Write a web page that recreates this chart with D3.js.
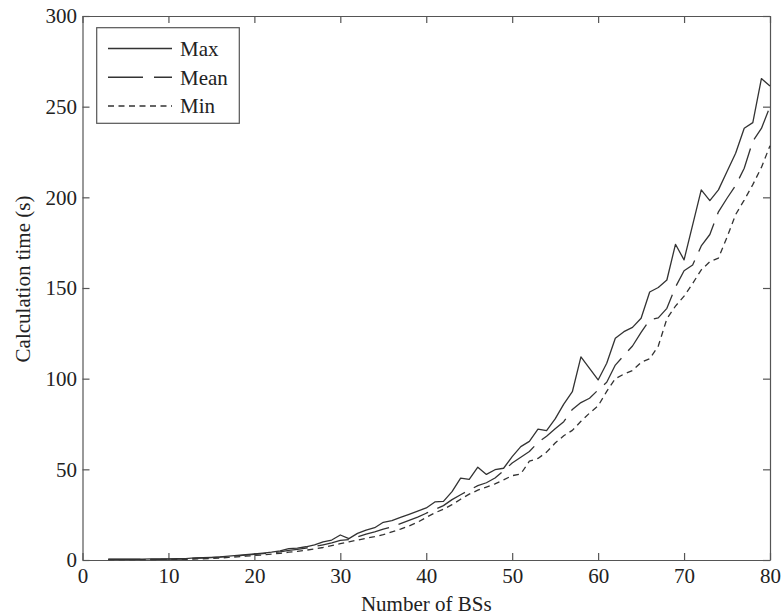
<!DOCTYPE html>
<html>
<head>
<meta charset="utf-8">
<script src="https://cdn.jsdelivr.net/npm/d3@7"></script>
<style>
  body { margin: 0; background: #fff; }
  text { font-family: "Liberation Serif", "DejaVu Serif", serif; fill: #222; }
</style>
</head>
<body>
<svg id="chart" width="784" height="616"></svg>
<script>
// Number of base stations
const bsCounts = [3, 4, 5, 6, 7, 8, 9, 10, 11, 12, 13, 14, 15, 16, 17, 18, 19, 20,
  21, 22, 23, 24, 25, 26, 27, 28, 29, 30, 31, 32, 33, 34, 35, 36, 37, 38, 39, 40,
  41, 42, 43, 44, 45, 46, 47, 48, 49, 50, 51, 52, 53, 54, 55, 56, 57, 58, 59, 60,
  61, 62, 63, 64, 65, 66, 67, 68, 69, 70, 71, 72, 73, 74, 75, 76, 77, 78, 79, 80];

// Calculation time in seconds
const maxTime = [0.5, 0.5, 0.5, 0.5, 0.5, 0.6, 0.6, 0.6, 0.7, 0.8, 1.2, 1.3, 1.5, 1.7, 2.1, 2.5, 3.0, 3.4,
  3.8, 4.3, 5.0, 6.3, 6.6, 7.3, 8.3, 10.0, 11.0, 13.8, 11.8, 14.7, 16.5, 17.8, 20.8, 21.7, 23.5, 25.2, 27.0, 28.7,
  32.0, 32.3, 37.7, 45.2, 44.5, 51.2, 47.2, 49.8, 50.6, 57.0, 62.5, 65.4, 72.2, 71.3, 77.8, 86.0, 92.8, 112.0, 105.7, 99.3,
  108.5, 122.3, 125.9, 128.3, 133.3, 147.8, 150.3, 154.4, 174.1, 165.5, 184.8, 204.1, 198.2, 204.1, 214.2, 224.3, 238.1, 241.2, 265.5, 261.4];

const meanTime = [0.3, 0.3, 0.3, 0.3, 0.4, 0.4, 0.4, 0.5, 0.5, 0.6, 0.9, 1.1, 1.3, 1.6, 1.9, 2.3, 2.7, 3.1,
  3.5, 3.9, 4.5, 5.3, 5.9, 6.6, 7.4, 8.4, 9.5, 10.8, 11.2, 12.8, 14.3, 15.5, 17.0, 18.3, 20.0, 21.8, 23.6, 25.8,
  27.8, 30.0, 33.3, 36.0, 38.5, 41.0, 42.6, 45.2, 49.2, 53.5, 56.7, 59.8, 64.8, 68.3, 72.4, 76.3, 83.0, 86.8, 89.2, 93.8,
  98.0, 107.5, 112.8, 118.0, 125.5, 132.4, 133.5, 138.8, 150.5, 159.5, 162.7, 173.2, 179.5, 192.0, 199.5, 206.5, 216.0, 231.0, 238.0, 250.0];

const minTime = [0.2, 0.2, 0.2, 0.2, 0.2, 0.2, 0.3, 0.3, 0.3, 0.4, 0.5, 0.7, 0.9, 1.1, 1.4, 1.7, 2.1, 2.5,
  2.8, 3.2, 3.7, 4.3, 4.8, 5.4, 6.1, 6.9, 7.9, 9.0, 10.0, 11.0, 12.0, 12.9, 14.0, 15.5, 17.0, 18.8, 20.8, 23.5,
  26.0, 28.0, 30.5, 33.5, 36.3, 38.5, 40.2, 42.0, 44.2, 46.5, 47.5, 54.5, 56.0, 59.5, 64.5, 68.5, 71.5, 76.5, 81.0, 85.0,
  93.0, 100.0, 102.5, 104.5, 109.0, 111.0, 118.0, 133.0, 140.0, 145.5, 152.5, 160.0, 164.5, 166.5, 178.0, 190.5, 198.5, 207.0, 216.5, 228.5];

const xTickValues = [0, 10, 20, 30, 40, 50, 60, 70, 80];
const yTickValues = [0, 50, 100, 150, 200, 250, 300];
const seriesNames = ["Max", "Mean", "Min"];
const seriesDash = ["none", "32,10", "6,4.5"];
const xLabel = "Number of BSs";
const yLabel = "Calculation time (s)";

const svg = d3.select("#chart");
const plot = { left: 82.5, right: 770, top: 16, bottom: 560 };
const axisColor = "#555";
const lineColor = "#333";
const fontSize = 21;

const x = d3.scaleLinear().domain([0, 80]).range([plot.left, plot.right]);
const y = d3.scaleLinear().domain([0, 300]).range([plot.bottom, plot.top]);

// Frame axes with inward ticks on all four sides
function styleAxis(g) {
  g.selectAll("path, line").attr("stroke", axisColor).attr("stroke-width", 1.2);
  g.selectAll("text").attr("font-size", fontSize).attr("fill", "#222")
    .attr("font-family", '"Liberation Serif", serif');
}

svg.append("g")
  .attr("transform", `translate(0,${plot.bottom})`)
  .call(d3.axisBottom(x).tickValues(xTickValues).tickSizeInner(-7).tickSizeOuter(0).tickPadding(8))
  .call(styleAxis);

svg.append("g")
  .attr("transform", `translate(0,${plot.top})`)
  .call(d3.axisTop(x).tickValues(xTickValues).tickSizeInner(-7).tickSizeOuter(0).tickFormat(""))
  .call(styleAxis);

svg.append("g")
  .attr("transform", `translate(${plot.left},0)`)
  .call(d3.axisLeft(y).tickValues(yTickValues).tickSizeInner(-7).tickSizeOuter(0).tickPadding(5.5))
  .call(styleAxis);

svg.append("g")
  .attr("transform", `translate(${plot.right},0)`)
  .call(d3.axisRight(y).tickValues(yTickValues).tickSizeInner(-7).tickSizeOuter(0).tickFormat(""))
  .call(styleAxis);

// Series lines
const series = [maxTime, meanTime, minTime];
const line = d3.line()
  .x((d, i) => x(bsCounts[i]))
  .y(d => y(d));

series.forEach((values, k) => {
  svg.append("path")
    .datum(values)
    .attr("fill", "none")
    .attr("stroke", lineColor)
    .attr("stroke-width", 1.3)
    .attr("stroke-linejoin", "round")
    .attr("stroke-dasharray", seriesDash[k])
    .attr("d", line);
});

// Axis titles
svg.append("text")
  .attr("x", (plot.left + plot.right) / 2)
  .attr("y", 611)
  .attr("text-anchor", "middle")
  .attr("font-size", fontSize)
  .text(xLabel);

svg.append("text")
  .attr("transform", `translate(30,${(plot.top + plot.bottom) / 2 - 9}) rotate(-90)`)
  .attr("text-anchor", "middle")
  .attr("font-size", fontSize)
  .text(yLabel);

// Legend
const legend = svg.append("g");
legend.append("rect")
  .attr("x", 96.7).attr("y", 27.7)
  .attr("width", 142.6).attr("height", 95.6)
  .attr("fill", "#fff")
  .attr("stroke", axisColor)
  .attr("stroke-width", 1.2);

const rowY = d3.scalePoint().domain(seriesNames).range([48.5, 106]);
seriesNames.forEach((name, k) => {
  legend.append("line")
    .attr("x1", 108).attr("x2", 172)
    .attr("y1", rowY(name)).attr("y2", rowY(name))
    .attr("stroke", lineColor)
    .attr("stroke-width", 1.3)
    .attr("stroke-dasharray", k === 1 ? "35,11" : seriesDash[k]);
  legend.append("text")
    .attr("x", 180)
    .attr("y", rowY(name))
    .attr("dy", "0.35em")
    .attr("font-size", fontSize)
    .text(name);
});
</script>
</body>
</html>
